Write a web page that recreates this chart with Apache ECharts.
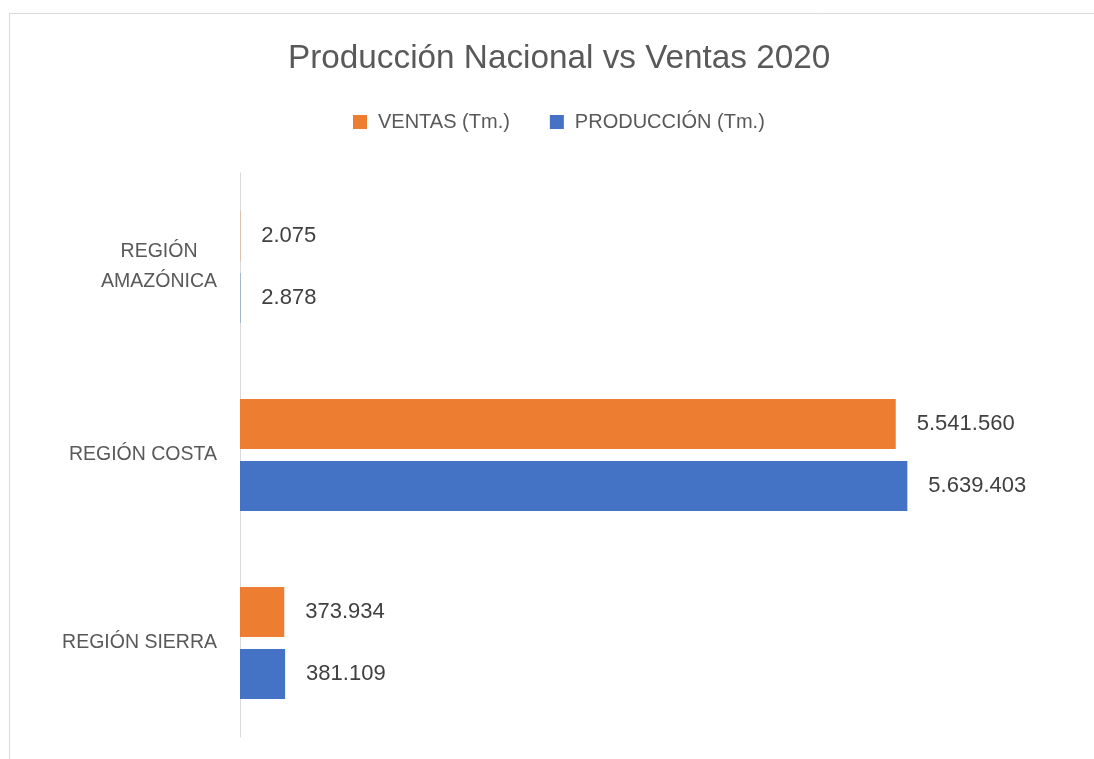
<!DOCTYPE html>
<html>
<head>
<meta charset="utf-8">
<script src="https://cdn.jsdelivr.net/npm/echarts@6/dist/echarts.min.js"></script>
<style>html,body{margin:0;padding:0;background:#fff;}#c{width:1094px;height:759px;}</style>
</head>
<body>
<div id="c"></div>
<script>
const categories = ['REGIÓN SIERRA', 'REGIÓN COSTA', 'REGIÓN\nAMAZÓNICA'];
const ventas = [373934, 5541560, 2075];
const produccion = [381109, 5639403, 2878];
const seriesNames = ['VENTAS (Tm.)', 'PRODUCCIÓN (Tm.)'];

const FONT = '"Liberation Sans", Arial, sans-serif';
function fmt(v) {
  return String(v).replace(/\B(?=(\d{3})+(?!\d))/g, '.');
}
const labelCfg = {
  show: true, position: 'right', distance: 21,
  color: '#404040', fontSize: 22, fontFamily: FONT,
  formatter: p => fmt(p.value)
};
const chart = echarts.init(document.getElementById('c'));
chart.setOption({
  animation: false,
  backgroundColor: '#ffffff',
  graphic: [{
    type: 'rect', shape: { x: 9.5, y: 13.5, width: 1110, height: 760 },
    style: { fill: 'none', stroke: '#d9d9d9', lineWidth: 1 }, silent: true, z: -1
  }],
  title: {
    text: 'Producción Nacional vs Ventas 2020',
    left: 283, top: 37,
    textStyle: { fontFamily: FONT, fontSize: 33.3, fontWeight: 'normal', color: '#595959' }
  },
  legend: {
    data: seriesNames,
    left: 348, top: 107,
    itemWidth: 14, itemHeight: 14, itemGap: 40,
    icon: 'rect',
    textStyle: { fontFamily: FONT, fontSize: 20, color: '#595959', padding: [0, 0, 0, 6] }
  },
  grid: { left: 240, right: 144, top: 173, bottom: 22, containLabel: false },
  xAxis: {
    type: 'value', min: 0, max: 6000000,
    show: false, splitLine: { show: false }
  },
  yAxis: {
    type: 'category', data: categories,
    axisLine: { show: true, lineStyle: { color: '#d9d9d9', width: 1 } },
    axisTick: { show: false },
    axisLabel: {
      margin: 23, align: 'right',
      formatter: v => v.split('\n').map(s => '{a|' + s + '}').join('\n'),
      rich: { a: { fontFamily: FONT, fontSize: 19.5, color: '#595959', align: 'center', lineHeight: 30 } }
    }
  },
  series: [
    { name: seriesNames[0], type: 'bar', data: ventas, barWidth: 50, barGap: '24%',
      itemStyle: { color: '#ED7D31' }, label: labelCfg },
    { name: seriesNames[1], type: 'bar', data: produccion, barWidth: 50, barGap: '24%',
      itemStyle: { color: '#4472C4' }, label: labelCfg }
  ]
});
</script>
</body>
</html>
